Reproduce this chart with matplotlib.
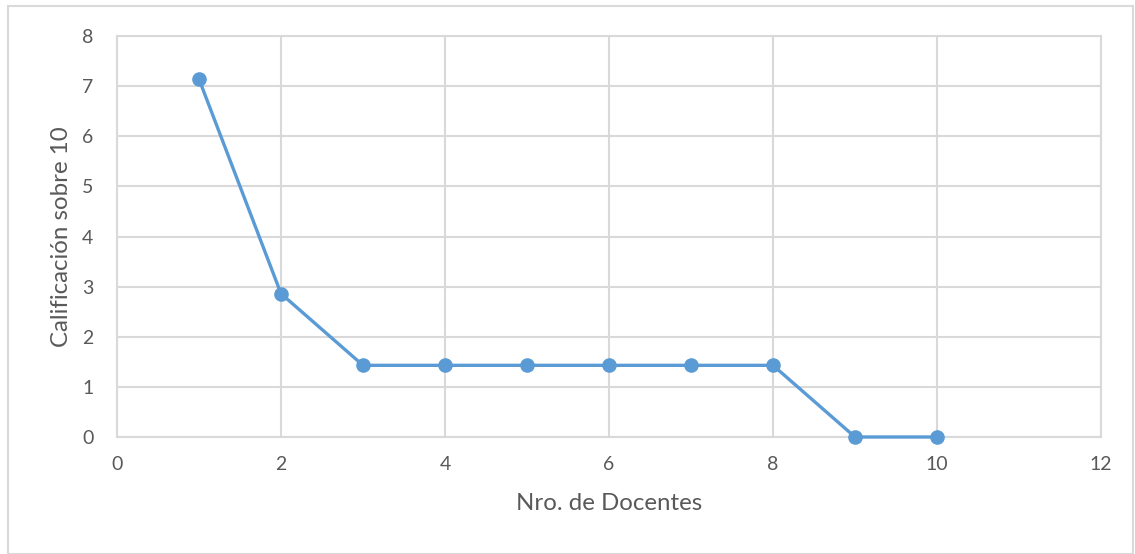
import matplotlib
matplotlib.use("Agg")
import matplotlib.pyplot as plt
from matplotlib.patches import Rectangle

# data
docentes = [1, 2, 3, 4, 5, 6, 7, 8, 9, 10]
calificacion = [7.14, 2.86, 1.43, 1.43, 1.43, 1.43, 1.43, 1.43, 0, 0]
xticks = [0, 2, 4, 6, 8, 10, 12]
yticks = [0, 1, 2, 3, 4, 5, 6, 7, 8]

plt.rcParams['font.family'] = ['Lato', 'DejaVu Sans']
txt = '#595959'
grid = '#d9d9d9'
blue = '#5b9bd5'

fig = plt.figure(figsize=(11.35, 5.54), dpi=100)
ax = fig.add_axes([117 / 1135, 1 - 437 / 554, (1101 - 117) / 1135, (437 - 36) / 554])

# outer chart border
fig.patches.append(Rectangle((8 / 1135, 0), 1 - 10 / 1135, 1 - 6 / 554, transform=fig.transFigure,
                             fill=False, edgecolor=grid, linewidth=1.5))

ax.plot(docentes, calificacion, '-o', color=blue, linewidth=2.4, markersize=9.5, zorder=3,
        clip_on=False)

ax.set_xlim(0, 12)
ax.set_ylim(0, 8)
ax.set_xticks(xticks)
ax.set_yticks(yticks)
ax.grid(True, color=grid, linewidth=1.5)
ax.set_axisbelow(True)
for s in ax.spines.values():
    s.set_color(grid)
    s.set_linewidth(1.5)
ax.tick_params(length=0, labelsize=14, colors=txt)
ax.tick_params(axis='x', pad=14)
ax.tick_params(axis='y', pad=17)

ax.set_xlabel('Nro. de Docentes', fontsize=17.3, color=txt, labelpad=14)
ax.set_ylabel('Calificación sobre 10', fontsize=17.3, color=txt, labelpad=7)

fig.savefig('out.png', dpi=100)
